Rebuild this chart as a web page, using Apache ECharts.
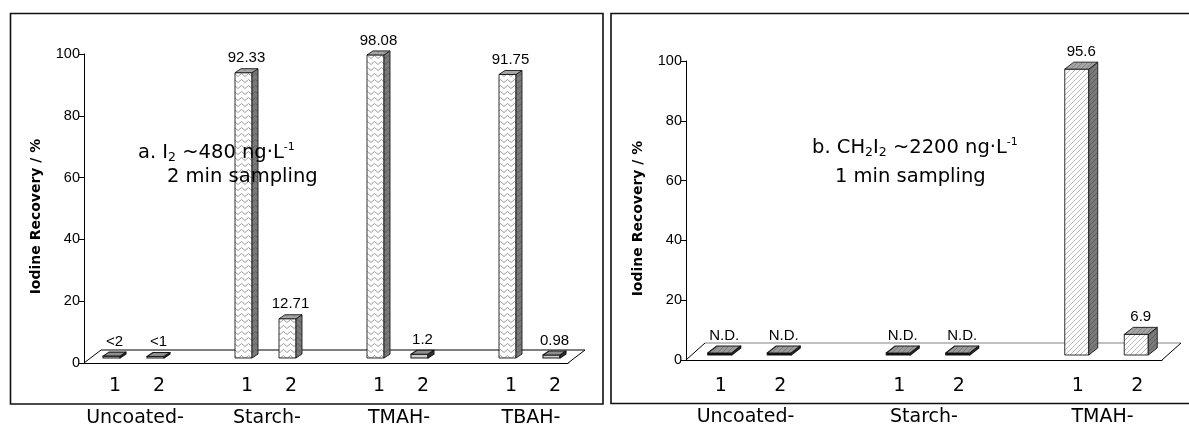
<!DOCTYPE html>
<html><head><meta charset="utf-8">
<script src="https://cdn.jsdelivr.net/npm/echarts@6/dist/echarts.min.js"></script>
<style>html,body{margin:0;padding:0;background:#fff}#c{width:1189px;height:425px}</style>
</head><body><div id="c"></div>
<script>
// ---------- data ----------
const groupsA = ['Uncoated-', 'Starch-', 'TMAH-', 'TBAH-'];
const valuesA1 = [0.6, 92.33, 98.08, 91.75];
const valuesA2 = [0.5, 12.71, 1.2, 0.98];
const labelsA1 = ['<2', '92.33', '98.08', '91.75'];
const labelsA2 = ['<1', '12.71', '1.2', '0.98'];
const groupsB = ['Uncoated-', 'Starch-', 'TMAH-'];
const valuesB1 = [0, 0, 95.6];
const valuesB2 = [0, 0, 6.9];
const labelsB1 = ['N.D.', 'N.D.', '95.6'];
const labelsB2 = ['N.D.', 'N.D.', '6.9'];
const sampleTicks = ['1', '2'];
const yName = 'Iodine Recovery / %';

// ---------- helpers ----------
function slotCats(groups) {
  const c = [];
  groups.forEach((g, i) => { c.push(sampleTicks[0], sampleTicks[1]); if (i < groups.length - 1) c.push(''); });
  return c;
}
function groupCats(groups) {
  const c = new Array(groups.length * 3).fill('');
  groups.forEach((g, i) => { c[i * 3 + 1] = g; });
  return c;
}
function barData(v1, v2, l1, l2) {
  const d = [], lab = [];
  v1.forEach((v, i) => {
    d.push([i * 3, v1[i]]); lab.push(l1[i]);
    d.push([i * 3 + 1, v2[i]]); lab.push(l2[i]);
  });
  return { d, lab };
}
function zigzag(bg, fg) {
  const c = document.createElement('canvas'); c.width = 7; c.height = 6;
  const g = c.getContext('2d'); g.fillStyle = bg; g.fillRect(0, 0, 7, 6);
  g.strokeStyle = fg; g.lineWidth = 1;
  g.beginPath(); g.moveTo(0, 4.5); g.lineTo(3.5, 1.5); g.lineTo(7, 4.5); g.stroke();
  return { image: c, repeat: 'repeat' };
}
function hatch(bg, fg) {
  const c = document.createElement('canvas'); c.width = 5; c.height = 5;
  const g = c.getContext('2d'); g.fillStyle = bg; g.fillRect(0, 0, 5, 5);
  g.strokeStyle = fg; g.lineWidth = 1;
  g.beginPath(); g.moveTo(-1, 6); g.lineTo(6, -1); g.stroke();
  g.beginPath(); g.moveTo(-1, 1); g.lineTo(1, -1); g.stroke();
  g.beginPath(); g.moveTo(4, 6); g.lineTo(6, 4); g.stroke();
  return { image: c, repeat: 'repeat' };
}

const cfgA = { w: 17, dx: 6, dy: -4, sx: 5.5, sy: -5, fdx: 17, fdy: -13, minH: 1.5,
  front: zigzag('#ffffff', '#9c9c9c'), side: zigzag('#7a7a7a', '#5c5c5c'), top: zigzag('#a6a6a6', '#8c8c8c'),
  flatTop: '#8e8e8e', flatFront: '#cfcfcf', back: '#000' };
const cfgB = { w: 24, dx: 9, dy: -7, sx: 4, sy: -5, fdx: 19, fdy: -17, minH: 2,
  front: hatch('#ffffff', '#bdbdbd'), side: hatch('#7a7a7a', '#5e5e5e'), top: hatch('#a3a3a3', '#858585'),
  flatTop: hatch('#9a9a9a', '#7a7a7a'), flatFront: '#000', back: '#808080' };

function makeBarRender(cfg, labels) {
  return function (params, api) {
    const slot = api.value(0), v = api.value(1);
    const p0 = api.coord([slot, 0]);
    const p1 = api.coord([slot, v]);
    let h = p0[1] - p1[1];
    if (h < cfg.minH) h = cfg.minH;
    const flat = h < 4.5;
    const xl = p0[0] - cfg.w / 2 + cfg.sx;
    const xr = xl + cfg.w;
    const yb = p0[1] + cfg.sy;
    const yt = yb - h;
    const st = { stroke: '#1a1a1a', lineWidth: flat ? 1.1 : 0.9, lineJoin: 'round' };
    return {
      type: 'group',
      children: [
        { type: 'polygon', shape: { points: [[xl, yb], [xr, yb], [xr, yt], [xl, yt]] }, style: Object.assign({ fill: flat ? cfg.flatFront : cfg.front }, st) },
        { type: 'polygon', shape: { points: [[xr, yb], [xr + cfg.dx, yb + cfg.dy], [xr + cfg.dx, yt + cfg.dy], [xr, yt]] }, style: Object.assign({ fill: flat ? '#333' : cfg.side }, st) },
        { type: 'polygon', shape: { points: [[xl, yt], [xr, yt], [xr + cfg.dx, yt + cfg.dy], [xl + cfg.dx, yt + cfg.dy]] }, style: Object.assign({ fill: flat ? cfg.flatTop : cfg.top }, st) },
        { type: 'text', style: { text: labels[params.dataIndex], x: xl + (cfg.w + cfg.dx) / 2, y: yt + cfg.dy - 3,
            align: 'center', verticalAlign: 'bottom', textAlign: 'center', textVerticalAlign: 'bottom',
            fontSize: 15, fontFamily: 'Liberation Sans', fill: '#000' } }
      ]
    };
  };
}
function makeFloor(cfg) {
  return function (params, api) {
    const cs = params.coordSys;
    const y0 = api.coord([0, 0])[1];
    const xL = cs.x, xR = cs.x + cs.width;
    return {
      type: 'group',
      children: [
        { type: 'line', shape: { x1: xL, y1: y0, x2: xL + cfg.fdx, y2: y0 + cfg.fdy }, style: { stroke: '#000', lineWidth: 1 } },
        { type: 'line', shape: { x1: xL + cfg.fdx, y1: y0 + cfg.fdy, x2: xR + cfg.fdx, y2: y0 + cfg.fdy }, style: { stroke: cfg.back, lineWidth: 1 } },
        { type: 'line', shape: { x1: xR, y1: y0, x2: xR + cfg.fdx, y2: y0 + cfg.fdy }, style: { stroke: '#000', lineWidth: 1 } }
      ]
    };
  };
}

const A = barData(valuesA1, valuesA2, labelsA1, labelsA2);
const B = barData(valuesB1, valuesB2, labelsB1, labelsB2);

function yAx(gi) {
  return {
    type: 'value', gridIndex: gi, min: 0, max: 100, interval: 20,
    axisLine: { show: true, lineStyle: { color: '#000', width: 1 } },
    axisTick: { show: true, length: 5, lineStyle: { color: '#000' } },
    splitLine: { show: false },
    axisLabel: { color: '#000', fontSize: 14.5, fontFamily: 'Liberation Sans', margin: 4 },
    name: yName, nameLocation: 'middle', nameGap: 41,
    nameTextStyle: { color: '#000', fontSize: 14, fontWeight: 'bold', fontFamily: 'DejaVu Sans', padding: [0, 16, 0, 0] }
  };
}
function xDigits(gi, groups, shift, margin) {
  return {
    type: 'category', gridIndex: gi, data: slotCats(groups),
    axisLine: { show: true, lineStyle: { color: '#000', width: 1 } },
    axisTick: { show: false }, splitLine: { show: false },
    axisLabel: { interval: 0, color: '#000', fontSize: 19, fontFamily: 'DejaVu Sans', margin: margin, padding: [0, 0, 0, shift * 2] }
  };
}
function xGroups(gi, groups, shift, margin) {
  return {
    type: 'category', gridIndex: gi, boundaryGap: false, data: groupCats(groups), position: 'bottom',
    axisLine: { show: false }, axisTick: { show: false }, splitLine: { show: false },
    axisLabel: { interval: 0, color: '#000', fontSize: 19, fontFamily: 'DejaVu Sans', margin: margin, padding: [0, 0, 0, shift * 2] }
  };
}

const nFont = { fontSize: 19.5, fontFamily: 'DejaVu Sans', fill: '#000', lineHeight: 22 };
const subFont = { fontSize: 12.5, fontFamily: 'DejaVu Sans', fill: '#000', verticalAlign: 'bottom', lineHeight: 12 };
const supFont = { fontSize: 11, fontFamily: 'DejaVu Sans', fill: '#000', verticalAlign: 'top', lineHeight: 11 };

const option = {
  animation: false,
  backgroundColor: '#fff',
  grid: [
    { left: 84, top: 54, width: 484, height: 309, containLabel: false, outerBoundsMode: 'none' },
    { left: 686, top: 61, width: 476, height: 299, containLabel: false, outerBoundsMode: 'none' }
  ],
  xAxis: [xDigits(0, groupsA, 9, 14), xGroups(0, groupsA, 7, 46), xDigits(1, groupsB, 5, 17), xGroups(1, groupsB, 0, 48)],
  yAxis: [yAx(0), yAx(1)],
  series: [
    { type: 'custom', xAxisIndex: 0, yAxisIndex: 0, z: 1, data: [[0, 0]], renderItem: makeFloor(cfgA) },
    { type: 'custom', xAxisIndex: 0, yAxisIndex: 0, z: 2, data: A.d, renderItem: makeBarRender(cfgA, A.lab) },
    { type: 'custom', xAxisIndex: 2, yAxisIndex: 1, z: 1, data: [[0, 0]], renderItem: makeFloor(cfgB) },
    { type: 'custom', xAxisIndex: 2, yAxisIndex: 1, z: 2, data: B.d, renderItem: makeBarRender(cfgB, B.lab) }
  ],
  graphic: [
    { type: 'rect', z: 100, shape: { x: 10.5, y: 13.5, width: 592.5, height: 390.5 }, style: { fill: 'none', stroke: '#111', lineWidth: 1.6 } },
    { type: 'rect', z: 100, shape: { x: 611, y: 13.5, width: 620, height: 390 }, style: { fill: 'none', stroke: '#111', lineWidth: 1.6 } },
    { type: 'text', z: 100, x: 138, y: 153, style: { text: '{n|a. I}{sub|2}{n| ~480 ng·L}{sup|-1}', verticalAlign: 'middle', textVerticalAlign: 'middle', rich: { n: nFont, sub: subFont, sup: supFont } } },
    { type: 'text', z: 100, x: 167, y: 177, style: { text: '2 min sampling', verticalAlign: 'middle', textVerticalAlign: 'middle', fontSize: 19.5, fontFamily: 'DejaVu Sans', fill: '#000' } },
    { type: 'text', z: 100, x: 812, y: 148, style: { text: '{n|b. CH}{sub|2}{n|I}{sub|2}{n| ~2200 ng·L}{sup|-1}', verticalAlign: 'middle', textVerticalAlign: 'middle', rich: { n: nFont, sub: subFont, sup: supFont } } },
    { type: 'text', z: 100, x: 835, y: 177, style: { text: '1 min sampling', verticalAlign: 'middle', textVerticalAlign: 'middle', fontSize: 19.5, fontFamily: 'DejaVu Sans', fill: '#000' } }
  ]
};
const chart = echarts.init(document.getElementById('c'), null, { renderer: 'canvas' });
chart.setOption(option);
</script>
</body></html>
